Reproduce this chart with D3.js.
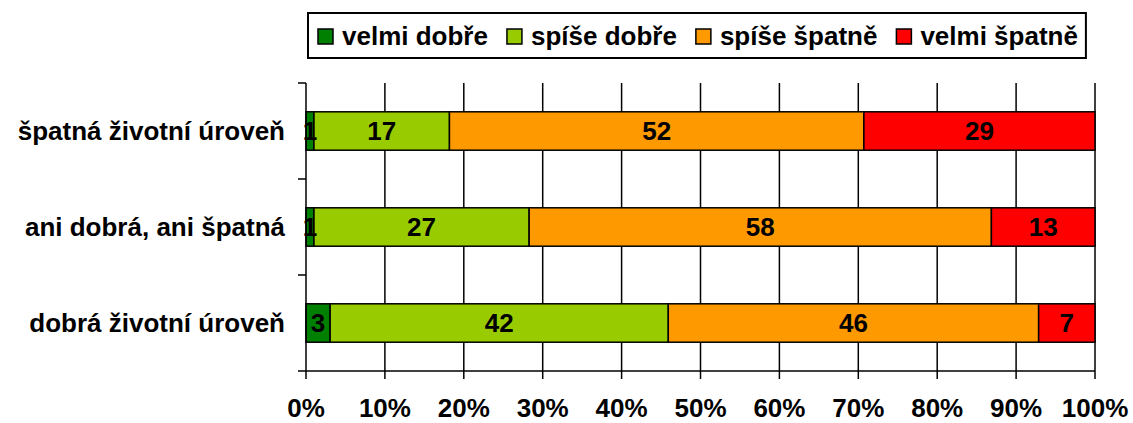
<!DOCTYPE html>
<html>
<head>
<meta charset="utf-8">
<script src="https://cdn.jsdelivr.net/npm/d3@7"></script>
<style>
  body { margin: 0; background: #fff; }
  svg text { font-family: "Liberation Sans", Arial, sans-serif; font-weight: bold; fill: #000; }
</style>
</head>
<body>
<svg id="chart" width="1133" height="423"></svg>
<script>
// categories top -> bottom
var categories = ['špatná životní úroveň', 'ani dobrá, ani špatná', 'dobrá životní úroveň'];
var seriesNames = ['velmi dobře', 'spíše dobře', 'spíše špatně', 'velmi špatně'];
var seriesColors = ['#008000', '#99cc00', '#ff9900', '#ff0000'];
var velmiDobre = [1, 1, 3];
var spiseDobre = [17, 27, 42];
var spiseSpatne = [52, 58, 46];
var velmiSpatne = [29, 13, 7];
var tickValues = [0, 0.1, 0.2, 0.3, 0.4, 0.5, 0.6, 0.7, 0.8, 0.9, 1];

var svg = d3.select('#chart');
var fs = 26;
var plot = {left: 306, right: 1095, top: 83, bottom: 371};

var x = d3.scaleLinear().domain([0, 1]).range([plot.left, plot.right]);
var y = d3.scaleBand().domain(categories).range([plot.top, plot.bottom]).paddingInner(0.6).paddingOuter(0.3);

// rows normalised to 100 %
var rows = categories.map(function(c, i){
  var vals = [velmiDobre[i], spiseDobre[i], spiseSpatne[i], velmiSpatne[i]];
  var sum = d3.sum(vals), acc = 0;
  return vals.map(function(v, k){
    var seg = {cat: c, k: k, val: v, x0: acc / sum, x1: (acc + v) / sum};
    acc += v;
    return seg;
  });
});

// gridlines
svg.append('g').selectAll('line').data(tickValues.slice(1)).enter().append('line')
  .attr('x1', function(d){ return x(d); }).attr('x2', function(d){ return x(d); })
  .attr('y1', plot.top).attr('y2', plot.bottom)
  .attr('stroke', '#000').attr('stroke-width', 1.5);

// bars
var segs = [].concat.apply([], rows);
svg.append('g').selectAll('rect').data(segs).enter().append('rect')
  .attr('x', function(d){ return x(d.x0); })
  .attr('width', function(d){ return x(d.x1) - x(d.x0); })
  .attr('y', function(d){ return y(d.cat); })
  .attr('height', y.bandwidth())
  .attr('fill', function(d){ return seriesColors[d.k]; })
  .attr('stroke', '#000').attr('stroke-width', 1.5);

svg.append('g').selectAll('text').data(segs).enter().append('text')
  .attr('x', function(d){ return (x(d.x0) + x(d.x1)) / 2; })
  .attr('y', function(d){ return y(d.cat) + y.bandwidth() / 2; })
  .attr('dy', '0.36em')
  .attr('text-anchor', 'middle')
  .attr('font-size', fs)
  .text(function(d){ return d.val; });

// y axis
var yAxis = svg.append('g');
yAxis.append('line').attr('x1', plot.left).attr('x2', plot.left).attr('y1', plot.top).attr('y2', plot.bottom)
  .attr('stroke', '#000').attr('stroke-width', 1.5);
var step = y.step();
yAxis.selectAll('line.tick').data(d3.range(categories.length + 1)).enter().append('line').attr('class', 'tick')
  .attr('x1', plot.left - 8).attr('x2', plot.left)
  .attr('y1', function(i){ return plot.top + i * step; })
  .attr('y2', function(i){ return plot.top + i * step; })
  .attr('stroke', '#000').attr('stroke-width', 1.5);
yAxis.selectAll('text').data(categories).enter().append('text')
  .attr('x', 285)
  .attr('y', function(d){ return y(d) + y.bandwidth() / 2; })
  .attr('dy', '0.36em')
  .attr('text-anchor', 'end')
  .attr('font-size', fs)
  .text(function(d){ return d; });

// x axis
var xAxis = svg.append('g');
xAxis.append('line').attr('x1', plot.left).attr('x2', plot.right).attr('y1', plot.bottom).attr('y2', plot.bottom)
  .attr('stroke', '#000').attr('stroke-width', 1.5);
xAxis.selectAll('line.tick').data(tickValues).enter().append('line').attr('class', 'tick')
  .attr('x1', function(d){ return x(d); }).attr('x2', function(d){ return x(d); })
  .attr('y1', plot.bottom).attr('y2', plot.bottom + 8)
  .attr('stroke', '#000').attr('stroke-width', 1.5);
xAxis.selectAll('text').data(tickValues).enter().append('text')
  .attr('x', function(d){ return x(d); })
  .attr('y', 417)
  .attr('text-anchor', 'middle')
  .attr('font-size', fs)
  .text(d3.format('.0%'));

// legend
var lg = svg.append('g');
var box = lg.append('rect').attr('fill', '#fff').attr('stroke', '#000').attr('stroke-width', 2);
var cx = 318;
seriesNames.forEach(function(name, k){
  lg.append('rect').attr('x', cx).attr('y', 29).attr('width', 15).attr('height', 15)
    .attr('fill', seriesColors[k]).attr('stroke', '#000').attr('stroke-width', 1.5);
  var t = lg.append('text').attr('x', cx + 24).attr('y', 45).attr('font-size', fs).text(name);
  cx += 24 + t.node().getComputedTextLength() + 19;
});
box.attr('x', 308).attr('y', 13).attr('width', cx - 19 + 8 - 308).attr('height', 45);
</script>
</body>
</html>
